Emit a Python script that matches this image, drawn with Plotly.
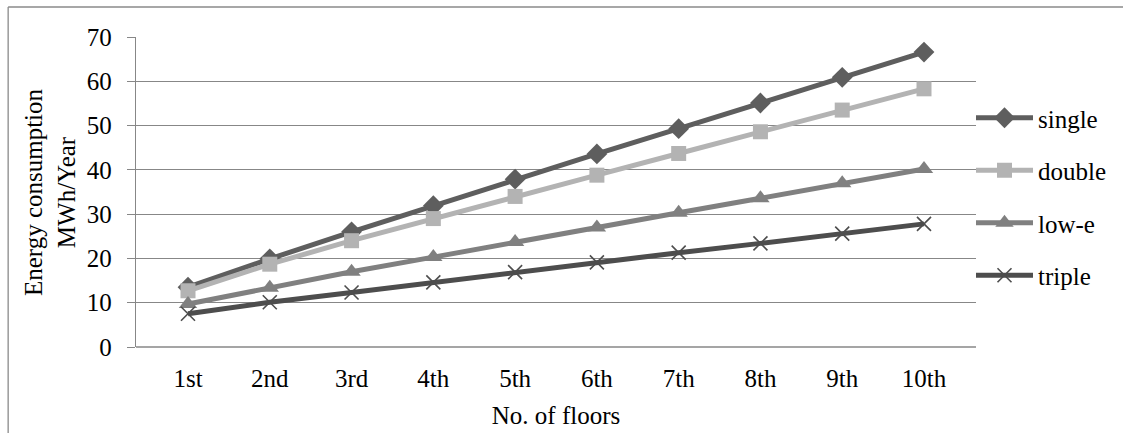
import plotly.graph_objects as go

floors = ["1st", "2nd", "3rd", "4th", "5th", "6th", "7th", "8th", "9th", "10th"]
single = [13.5, 19.9, 26.0, 31.9, 37.9, 43.6, 49.3, 55.1, 60.9, 66.6]
double = [12.7, 18.7, 24.0, 29.0, 34.0, 38.8, 43.7, 48.6, 53.5, 58.3]
low_e = [9.7, 13.4, 17.0, 20.3, 23.7, 27.0, 30.3, 33.6, 37.0, 40.2]
triple = [7.5, 10.1, 12.3, 14.6, 16.9, 19.1, 21.3, 23.4, 25.6, 27.8]
y_ticks = [0, 10, 20, 30, 40, 50, 60, 70]

W, H = 1123, 433
L, R, T, B = 136, 146, 37, 86
pw, ph = W - L - R, H - T - B

FONT = "Liberation Serif"
FS = 25

series = [
    ("single", single, "#5e5e5e", "diamond", 16),
    ("double", double, "#b3b3b3", "square", 15),
    ("low-e", low_e, "#808080", "triangle-up", 16),
    ("triple", triple, "#4d4d4d", "x-thin", 14),
]

fig = go.Figure()
for i, (name, vals, col, sym, sz) in enumerate(series):
    marker = dict(symbol=sym, size=sz, color=col)
    if sym == "x-thin":
        marker["line"] = dict(color=col, width=1.6)
    else:
        marker["line"] = dict(width=0)
    fig.add_trace(go.Scatter(
        x=floors, y=vals, name=name, mode="lines+markers",
        line=dict(color=col, width=5), marker=marker,
        legendgroup=f"g{i}",
    ))

px2x = lambda p: (p - L) / pw
px2y = lambda p: (H - B - p) / ph

fig.update_layout(
    width=W, height=H,
    margin=dict(l=L, r=R, t=T, b=B),
    paper_bgcolor="white", plot_bgcolor="white",
    font=dict(family=FONT, size=FS, color="black"),
    showlegend=True,
    legend=dict(
        x=px2x(971), y=px2y(95), xanchor="left", yanchor="top",
        traceorder="grouped", tracegroupgap=17, itemwidth=57,
        font=dict(family=FONT, size=FS, color="black"),
        bgcolor="rgba(0,0,0,0)",
    ),
    xaxis=dict(
        type="category", showgrid=False, zeroline=False,
        showline=False, ticks="", tickfont=dict(size=FS),
        ticklabelstandoff=14, automargin=False,
        title=dict(text="No. of floors", font=dict(size=FS), standoff=15),
    ),
    yaxis=dict(
        range=[0, 70], tickvals=y_ticks, showgrid=True,
        gridcolor="#878787", gridwidth=1.3, zeroline=False,
        showline=True, linecolor="#878787", linewidth=1.3,
        ticks="outside", ticklen=8, tickcolor="#878787", tickwidth=1.3,
        tickfont=dict(size=FS), ticklabelstandoff=10, automargin=False,
    ),
    annotations=[
        dict(text="Energy consumption<br>MWh/Year", xref="paper", yref="paper",
             x=px2x(50), y=0.5, xanchor="center", yanchor="middle",
             textangle=-90, showarrow=False, font=dict(family=FONT, size=FS)),
    ],
    shapes=[
        dict(type="line", xref="paper", yref="paper",
             x0=0, x1=1, y0=0, y1=0, line=dict(color="#878787", width=1.3)),
        dict(type="line", xref="paper", yref="paper",
             x0=px2x(8), x1=px2x(W + 5), y0=px2y(7), y1=px2y(7),
             line=dict(color="#8a8a8a", width=1.3)),
        dict(type="line", xref="paper", yref="paper",
             x0=px2x(8), x1=px2x(8), y0=px2y(7), y1=px2y(H + 5),
             line=dict(color="#8a8a8a", width=1.3)),
    ],
)

fig.write_html("out.html", config={"displayModeBar": False},
               post_script="document.body.style.margin='0';document.body.style.overflow='hidden';")
